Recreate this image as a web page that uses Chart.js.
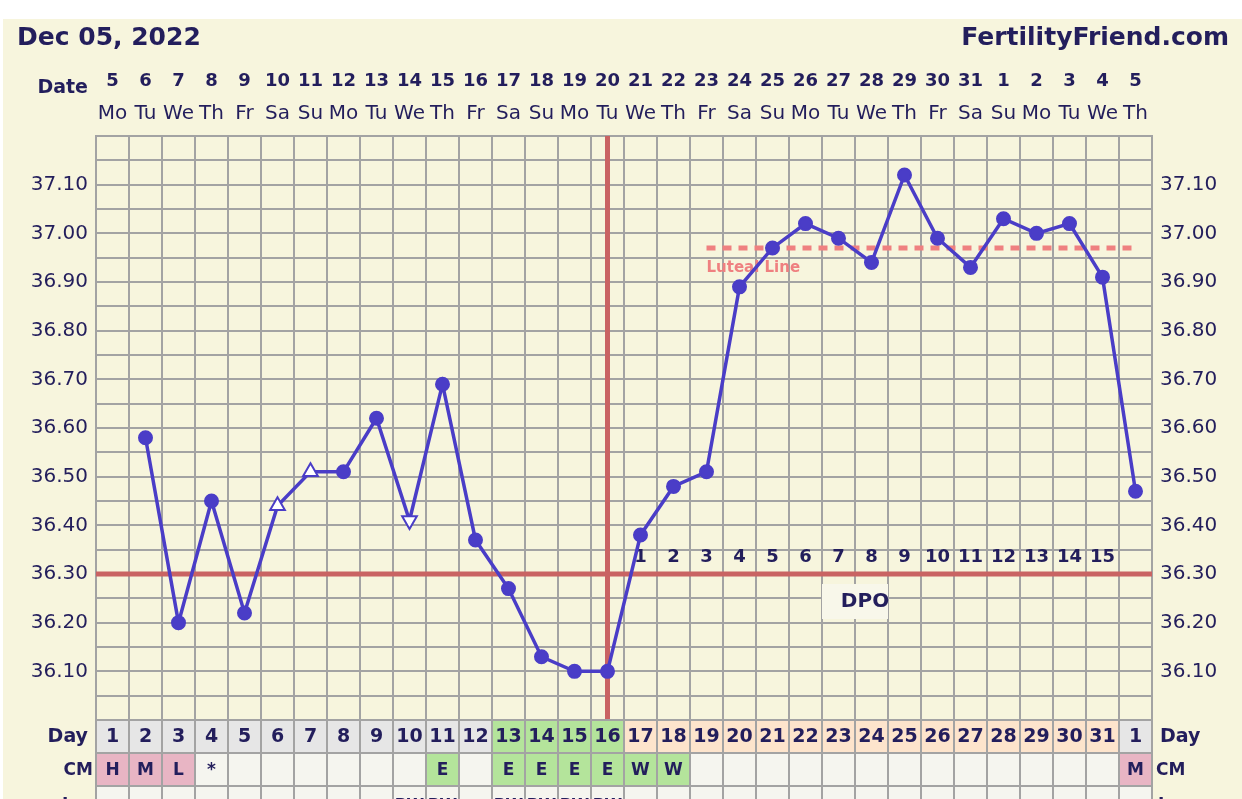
<!DOCTYPE html>
<html>
<head>
<meta charset="utf-8">
<title>Fertility chart</title>
<script src="https://cdn.jsdelivr.net/npm/chart.js@4.4.1/dist/chart.umd.min.js"></script>
<style>
    html, body { margin: 0; padding: 0; background: #ffffff; }
    canvas { display: block; }
</style>
</head>
<body>
<canvas id="bbtChart" width="1242" height="799"></canvas>
<script>
// Chart data
const cycleDays = ['1','2','3','4','5','6','7','8','9','10','11','12','13','14','15','16',
    '17','18','19','20','21','22','23','24','25','26','27','28','29','30','31','1'];
const dateNumbers = ['5','6','7','8','9','10','11','12','13','14','15','16','17','18','19','20',
    '21','22','23','24','25','26','27','28','29','30','31','1','2','3','4','5'];
const weekdays = ['Mo','Tu','We','Th','Fr','Sa','Su','Mo','Tu','We','Th','Fr','Sa','Su','Mo','Tu',
    'We','Th','Fr','Sa','Su','Mo','Tu','We','Th','Fr','Sa','Su','Mo','Tu','We','Th'];
const temperatures = [null, 36.58, 36.20, 36.45, 36.22, 36.44, 36.51, 36.51, 36.62, 36.41, 36.69, 36.37,
    36.27, 36.13, 36.10, 36.10, 36.38, 36.48, 36.51, 36.89, 36.97, 37.02, 36.99, 36.94,
    37.12, 36.99, 36.93, 37.03, 37.00, 37.02, 36.91, 36.47];
// 'dot' = normal reading, 'up' / 'down' = open triangles
const markerTypes = ['', 'dot', 'dot', 'dot', 'dot', 'up', 'up', 'dot', 'dot', 'down', 'dot', 'dot',
    'dot', 'dot', 'dot', 'dot', 'dot', 'dot', 'dot', 'dot', 'dot', 'dot', 'dot', 'dot',
    'dot', 'dot', 'dot', 'dot', 'dot', 'dot', 'dot', 'dot'];
const coverline = 36.30;
const ovulationIndex = 15;          // cycle day 16
const lutealLevel = 36.97;
const lutealStartIndex = 18;        // cycle day 19
const dpoLabels = ['1','2','3','4','5','6','7','8','9','10','11','12','13','14','15'];
const dpoStartIndex = 16;           // cycle day 17
// day row shading: n = normal, f = fertile, l = luteal
const dayPhases = ['n','n','n','n','n','n','n','n','n','n','n','n','f','f','f','f',
    'l','l','l','l','l','l','l','l','l','l','l','l','l','l','l','n'];
const cmValues = ['H','M','L','*','','','','','','','E','','E','E','E','E',
    'W','W','','','','','','','','','','','','','','M'];
const thirdRow = ['','','','','','','','','','PW','PW','','PW','PW','PW','PW',
    '','','','','','','','','','','','','','','',''];

const CREAM = '#f7f5dd';
const GRID = '#a3a3a3';
const NAVY = '#231e5c';
const BLUE = '#4a3dc7';
const RED = '#c96363';
const LUTEAL = '#ef8080';
const FONT = '"DejaVu Sans", Verdana, sans-serif';

function lutealData() {
    return cycleDays.map((d, i) => i >= lutealStartIndex ? lutealLevel : null);
}

function tempLabel(value) {
    const r = Math.round(value * 100);
    if (r % 10 === 0 && r > 3600 && r < 3720) return (r / 100).toFixed(2);
    return '';
}

function cellEdges(xs, i) {
    const half = (xs.getPixelForValue(1) - xs.getPixelForValue(0)) / 2;
    const c = xs.getPixelForValue(i);
    return [c - half, c + half];
}

function drawText(ctx, text, x, y, font, color, align) {
    ctx.font = font;
    ctx.fillStyle = color;
    ctx.textAlign = align || 'center';
    ctx.fillText(text, x, y);
}

const fertilityPlugin = {
    id: 'fertilityChart',
    beforeDraw(chart) {
        const ctx = chart.ctx;
        ctx.save();
        ctx.fillStyle = '#ffffff';
        ctx.fillRect(0, 0, chart.width, chart.height);
        ctx.fillStyle = CREAM;
        ctx.fillRect(3, 19, chart.width - 3, chart.height - 19);
        ctx.restore();
    },
    beforeDatasetsDraw(chart) {
        const ctx = chart.ctx;
        const area = chart.chartArea;
        const xs = chart.scales.x;
        const ys = chart.scales.y;
        ctx.save();

        // DPO box
        const boxL = cellEdges(xs, 22)[0];
        const boxR = cellEdges(xs, 23)[1];
        const cy = ys.getPixelForValue(coverline);
        ctx.fillStyle = '#f8f7ea';
        ctx.fillRect(boxL, cy + 10, boxR - boxL, 35);
        ctx.textBaseline = 'middle';
        drawText(ctx, 'DPO', boxL + 43, cy + 28, 'bold 20px ' + FONT, NAVY);

        // coverline and ovulation line
        ctx.strokeStyle = RED;
        ctx.lineWidth = 5;
        ctx.beginPath();
        ctx.moveTo(area.left, cy);
        ctx.lineTo(area.right, cy);
        const ox = xs.getPixelForValue(ovulationIndex);
        ctx.moveTo(ox, area.top);
        ctx.lineTo(ox, area.bottom);
        ctx.stroke();

        // DPO numbers
        dpoLabels.forEach((t, k) => {
            drawText(ctx, t, xs.getPixelForValue(dpoStartIndex + k), cy - 17, 'bold 18px ' + FONT, NAVY);
        });

        // luteal label
        const ly = ys.getPixelForValue(lutealLevel);
        drawText(ctx, 'Luteal Line', xs.getPixelForValue(lutealStartIndex), ly + 20,
            'bold 15px ' + FONT, LUTEAL, 'left');
        ctx.restore();
    },
    afterDraw(chart) {
        const ctx = chart.ctx;
        const area = chart.chartArea;
        const xs = chart.scales.x;
        ctx.save();

        // header
        ctx.textBaseline = 'alphabetic';
        drawText(ctx, 'Dec 05, 2022', 17, 45, 'bold 25px ' + FONT, NAVY, 'left');
        drawText(ctx, 'FertilityFriend.com', 1229, 45, 'bold 25px ' + FONT, NAVY, 'right');
        drawText(ctx, 'Date', 88, 93, 'bold 19px ' + FONT, NAVY, 'right');
        cycleDays.forEach((d, i) => {
            const x = xs.getPixelForValue(i);
            drawText(ctx, dateNumbers[i], x, 86, 'bold 18px ' + FONT, NAVY);
            drawText(ctx, weekdays[i], x, 119, '20px ' + FONT, NAVY);
        });

        // table rows under the plot
        const rowH = 33;
        const top = area.bottom;
        const phaseColor = { n: '#e6e6e6', f: '#b4e49b', l: '#fde4cc' };
        cycleDays.forEach((d, i) => {
            const [l, r] = cellEdges(xs, i);
            ctx.fillStyle = phaseColor[dayPhases[i]];
            ctx.fillRect(l, top, r - l, rowH);
            const cm = cmValues[i];
            ctx.fillStyle = (cm === 'H' || cm === 'M' || cm === 'L') ? '#e8b5c4'
                : (cm === 'E' || cm === 'W') ? '#b4e49b' : '#f5f5ef';
            ctx.fillRect(l, top + rowH, r - l, rowH);
            ctx.fillStyle = '#f5f5ef';
            ctx.fillRect(l, top + rowH * 2, r - l, rowH);
        });

        ctx.strokeStyle = GRID;
        ctx.lineWidth = 2;
        ctx.beginPath();
        for (let i = 0; i < cycleDays.length; i++) {
            const [l, r] = cellEdges(xs, i);
            ctx.moveTo(l, top);
            ctx.lineTo(l, chart.height);
            if (i === cycleDays.length - 1) {
                ctx.moveTo(r, top);
                ctx.lineTo(r, chart.height);
            }
        }
        for (let k = 0; k <= 3; k++) {
            ctx.moveTo(area.left, top + k * rowH);
            ctx.lineTo(area.right, top + k * rowH);
        }
        ctx.stroke();

        ctx.textBaseline = 'middle';
        cycleDays.forEach((d, i) => {
            const x = xs.getPixelForValue(i);
            drawText(ctx, d, x, top + rowH / 2 + 1, 'bold 19px ' + FONT, NAVY);
            if (cmValues[i]) drawText(ctx, cmValues[i], x, top + rowH * 1.5 + 1, 'bold 17px ' + FONT, NAVY);
            if (thirdRow[i]) drawText(ctx, thirdRow[i], x, top + rowH * 2.5 + 3, 'bold 16px ' + FONT, NAVY);
        });
        drawText(ctx, 'Day', 88, top + rowH / 2 + 1, 'bold 19px ' + FONT, NAVY, 'right');
        drawText(ctx, 'CM', 93, top + rowH * 1.5 + 1, 'bold 17px ' + FONT, NAVY, 'right');
        drawText(ctx, 'I', 62, top + rowH * 2.5 + 3, 'bold 17px ' + FONT, NAVY, 'left');
        drawText(ctx, 'Day', 1160, top + rowH / 2 + 1, 'bold 19px ' + FONT, NAVY, 'left');
        drawText(ctx, 'CM', 1156, top + rowH * 1.5 + 1, 'bold 17px ' + FONT, NAVY, 'left');
        drawText(ctx, 'I', 1158, top + rowH * 2.5 + 3, 'bold 17px ' + FONT, NAVY, 'left');
        ctx.restore();
    }
};

const tickFont = { family: FONT, size: 20 };

new Chart(document.getElementById('bbtChart'), {
    type: 'line',
    data: {
        labels: cycleDays,
        datasets: [
            {
                label: 'Temperature',
                data: temperatures,
                borderColor: BLUE,
                borderWidth: 3.5,
                tension: 0,
                pointStyle: markerTypes.map(m => m === 'dot' ? 'circle' : 'triangle'),
                rotation: markerTypes.map(m => m === 'down' ? 180 : 0),
                pointRadius: markerTypes.map(m => m === 'dot' ? 6.5 : 8.5),
                pointBorderWidth: 2,
                pointBackgroundColor: markerTypes.map(m => m === 'dot' ? BLUE : '#ffffff'),
                pointBorderColor: BLUE
            },
            {
                label: 'Luteal Line',
                data: lutealData(),
                borderColor: LUTEAL,
                borderWidth: 5,
                borderDash: [9, 7],
                pointRadius: 0,
                tension: 0
            }
        ]
    },
    options: {
        responsive: false,
        animation: false,
        devicePixelRatio: 1,
        layout: { padding: { left: 0, right: 0, top: 136, bottom: 79 } },
        plugins: { legend: { display: false }, tooltip: { enabled: false } },
        scales: {
            x: {
                type: 'category',
                offset: true,
                grid: { offset: true, color: GRID, lineWidth: 2, drawTicks: false },
                border: { display: true, color: GRID, width: 2 },
                ticks: { display: false },
                afterFit(scale) { scale.height = 0; }
            },
            y: {
                position: 'left',
                min: 36.0,
                max: 37.2,
                grid: { color: GRID, lineWidth: 2, drawTicks: false },
                border: { color: GRID, width: 2 },
                ticks: {
                    stepSize: 0.05, autoSkip: false, maxTicksLimit: 60, padding: 8,
                    color: NAVY, font: tickFont, callback: tempLabel
                },
                afterFit(scale) { scale.width = 96; }
            },
            y2: {
                position: 'right',
                min: 36.0,
                max: 37.2,
                grid: { display: false, drawTicks: false },
                border: { color: GRID, width: 2 },
                ticks: {
                    stepSize: 0.05, autoSkip: false, maxTicksLimit: 60, padding: 8,
                    color: NAVY, font: tickFont, callback: tempLabel
                },
                afterFit(scale) { scale.width = 90; }
            }
        }
    },
    plugins: [fertilityPlugin]
});
</script>
</body>
</html>
